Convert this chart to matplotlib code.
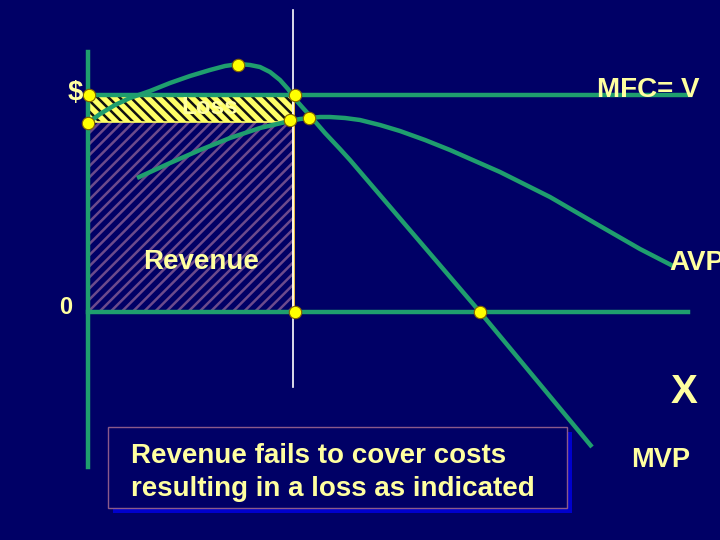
import matplotlib
import matplotlib.pyplot as plt
from matplotlib.patches import Rectangle

matplotlib.use("Agg")
plt.rcParams["font.family"] = ["Liberation Sans", "DejaVu Sans"]
plt.rcParams["hatch.linewidth"] = 1.8

BG = "#000066"
GREEN = "#1f9e6e"
TEXT = "#ffffa0"
DOT = "#ffff00"

# everything in pixel coords (y grows downward)
MFC_Y = 95
AVP_MAX_Y = 122
ZERO_Y = 312
X_STAR = 293

MVP_X = [88, 100, 115, 130, 150, 170, 190, 210, 225, 239, 250, 260, 270, 280, 288,
         295, 303, 312, 325, 340, 350, 480, 592]
MVP_Y = [123, 114, 105, 98, 91, 83, 76, 70, 66, 64, 65, 67, 72, 80, 89,
         99, 108, 118, 133, 149, 160, 312, 447]

AVP_X = [137, 170, 200, 230, 260, 290, 300, 310, 320, 330, 345, 360, 380, 400, 425,
         450, 500, 550, 600, 640, 675]
AVP_Y = [178, 163, 150, 138, 128, 121, 119, 118, 117, 117, 118, 120, 125, 131, 140,
         150, 172, 197, 226, 249, 267]

DOT_X = [89, 88, 238, 295, 290, 309, 295, 480]
DOT_Y = [95, 123, 65, 95, 120, 118, 312, 312]


def main() -> None:
    fig = plt.figure(figsize=(7.2, 5.4), dpi=100, facecolor=BG)
    ax = fig.add_axes([0, 0, 1, 1])
    ax.set_xlim(0, 720)
    ax.set_ylim(540, 0)
    ax.axis("off")
    ax.set_facecolor(BG)

    # revenue block
    ax.add_patch(Rectangle((88, AVP_MAX_Y), X_STAR - 88, ZERO_Y - AVP_MAX_Y,
                           facecolor=BG, edgecolor="#6c4a8c", hatch="///", linewidth=0, zorder=1))
    # loss strip
    ax.add_patch(Rectangle((88, MFC_Y), X_STAR - 88, AVP_MAX_Y - MFC_Y,
                           facecolor="#ffff66", edgecolor="#111111", hatch="\\\\\\", linewidth=0, zorder=1))
    ax.add_patch(Rectangle((88, MFC_Y), X_STAR - 88, AVP_MAX_Y - MFC_Y,
                           fill=False, edgecolor="#ffff66", linewidth=1.2, zorder=2))
    ax.plot([X_STAR, X_STAR], [MFC_Y, ZERO_Y], color="#ffcc33", lw=2, zorder=2)
    ax.plot([X_STAR, X_STAR], [10, 387], color="white", lw=1.2, zorder=2)

    # axes and MFC line
    ax.plot([88, 88], [52, 467], color=GREEN, lw=3.2, zorder=3)
    ax.plot([88, 688], [ZERO_Y, ZERO_Y], color=GREEN, lw=3.2, zorder=3)
    ax.plot([88, 690], [MFC_Y, MFC_Y], color=GREEN, lw=3.2, zorder=3)

    ax.plot(MVP_X, MVP_Y, color=GREEN, lw=3.2, zorder=3, solid_capstyle="butt", solid_joinstyle="round")
    ax.plot(AVP_X, AVP_Y, color=GREEN, lw=3.2, zorder=3, solid_capstyle="butt", solid_joinstyle="round")

    ax.scatter(DOT_X, DOT_Y, s=80, color=DOT, edgecolor="#806000", linewidth=0.8, zorder=5)

    bold = dict(color=TEXT, fontweight="bold", zorder=6)
    ax.text(75, 93, "$", fontsize=20, ha="center", va="center", **bold)
    ax.text(66, 308, "0", fontsize=17, ha="center", va="center", **bold)
    ax.text(210, 108, "Loss", fontsize=17.5, ha="center", va="center", **bold)
    ax.text(201, 262, "Revenue", fontsize=20, ha="center", va="center", **bold)
    ax.text(648, 90, "MFC= V", fontsize=20, ha="center", va="center", **bold)
    ax.text(669, 263, "AVP", fontsize=20, ha="left", va="center", clip_on=False, **bold)
    ax.text(684, 392, "X", fontsize=29, ha="center", va="center", **bold)
    ax.text(661, 460, "MVP", fontsize=19.5, ha="center", va="center", **bold)

    # caption box with its shadow
    ax.add_patch(Rectangle((113, 432), 459, 81, facecolor="#0000cc", edgecolor="none", zorder=4))
    ax.add_patch(Rectangle((108, 427), 459, 81, facecolor=BG, edgecolor="#8a5a8a", linewidth=1, zorder=4))
    ax.text(131, 456, "Revenue fails to cover costs", fontsize=20, ha="left", va="center", **bold)
    ax.text(131, 489, "resulting in a loss as indicated", fontsize=20, ha="left", va="center", **bold)

    fig.savefig("out.png", dpi=100, facecolor=BG)
    plt.close("all")


if __name__ == "__main__":
    main()
